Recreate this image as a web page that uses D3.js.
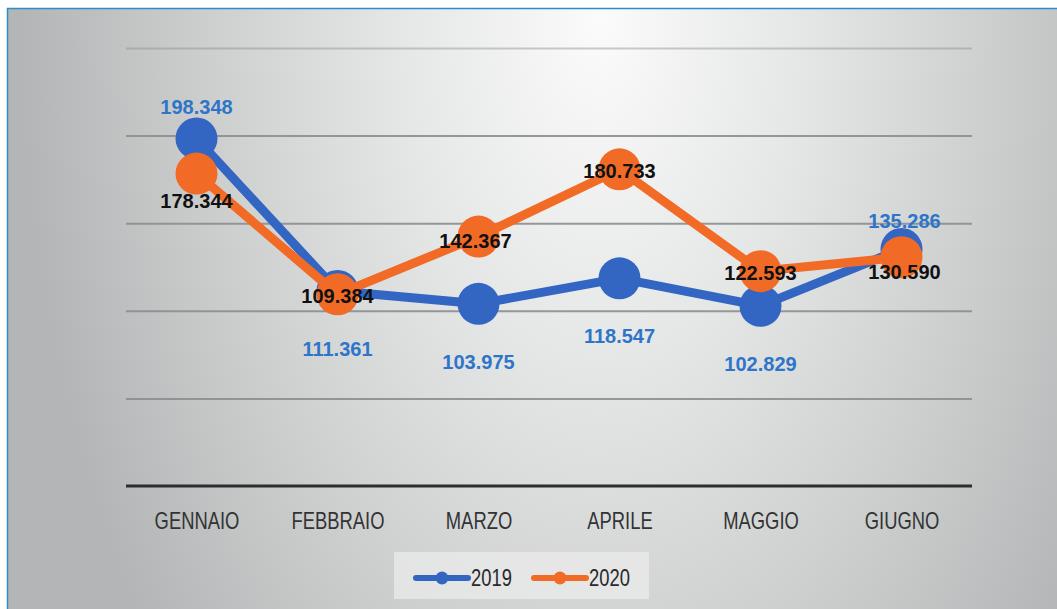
<!DOCTYPE html>
<html>
<head>
<meta charset="utf-8">
<script src="https://cdn.jsdelivr.net/npm/d3@7"></script>
<style>
  html, body { margin: 0; padding: 0; background: #fff; }
  svg { display: block; font-family: "Liberation Sans", Arial, sans-serif; }
</style>
</head>
<body>
<div id="chart"></div>
<script>
// data
const months = ["GENNAIO", "FEBBRAIO", "MARZO", "APRILE", "MAGGIO", "GIUGNO"];
const values2019 = [198.348, 111.361, 103.975, 118.547, 102.829, 135.286];
const values2020 = [178.344, 109.384, 142.367, 180.733, 122.593, 130.590];
const labels2019 = ["198.348", "111.361", "103.975", "118.547", "102.829", "135.286"];
const labels2020 = ["178.344", "109.384", "142.367", "180.733", "122.593", "130.590"];
const gridTicks = [50, 100, 150, 200, 250];

const series = [
  { name: "2019", values: values2019, labels: labels2019, color: "#3366c2", labelColor: "#2e75c9" },
  { name: "2020", values: values2020, labels: labels2020, color: "#f26b26", labelColor: "#111" },
];

// no condensed font installed, so squeeze the text horizontally
const squeeze = "scale(0.8,1)";

//size
const width = 1057, height = 609;
const margin = { top: 48, right: 85, bottom: 123, left: 126 };

const svg = d3.select("#chart").append("svg")
  .attr("width", width)
  .attr("height", height);

//background
const defs = svg.append("defs");
const grad = defs.append("radialGradient")
  .attr("id", "bg")
  .attr("gradientUnits", "userSpaceOnUse")
  .attr("cx", 600).attr("cy", 20).attr("r", 580)
  .attr("gradientTransform", "translate(600 20) scale(1 1.7) translate(-600 -20)");
grad.append("stop").attr("offset", "0%").attr("stop-color", "#fbfbfb");
grad.append("stop").attr("offset", "35%").attr("stop-color", "#e5e6e6");
grad.append("stop").attr("offset", "65%").attr("stop-color", "#cfd1d1");
grad.append("stop").attr("offset", "100%").attr("stop-color", "#b3b5b6");

svg.append("rect")
  .attr("x", 7.5).attr("y", 8.5)
  .attr("width", width).attr("height", height)
  .attr("fill", "url(#bg)")
  .attr("stroke", "#2b8ec4")
  .attr("stroke-width", 1.5);

//scales
const x = d3.scalePoint()
  .domain(months)
  .range([margin.left, width - margin.right])
  .padding(0.5);

const y = d3.scaleLinear()
  .domain([0, 250])
  .range([height - margin.bottom, margin.top]);

//grid
const grid = svg.append("g")
  .attr("transform", `translate(${margin.left},0)`)
  .call(d3.axisLeft(y).tickValues(gridTicks).tickSize(-(width - margin.left - margin.right)).tickFormat(""));
grid.select(".domain").remove();
grid.selectAll(".tick line")
  .attr("stroke", "#8c8d8e")
  .attr("stroke-width", 2)
  .attr("stroke-opacity", (d) => (d === 250 ? 0.45 : 0.9));

//x axis
const xAxis = svg.append("g")
  .attr("transform", `translate(0,${y(0)})`)
  .call(d3.axisBottom(x).tickSize(0).tickPadding(27));
xAxis.select(".domain")
  .attr("stroke", "#2b2d2e")
  .attr("stroke-width", 3)
  .attr("d", `M${margin.left},0H${width - margin.right}`);
xAxis.selectAll(".tick text")
  .attr("font-size", 23)
  .attr("fill", "#333")
  .attr("transform", squeeze);

//lines & markers
const line = d3.line()
  .x((d, i) => x(months[i]))
  .y((d) => y(d));

series.forEach((s) => {
  const g = svg.append("g").attr("class", "series");
  g.append("path")
    .attr("d", line(s.values))
    .attr("fill", "none")
    .attr("stroke", s.color)
    .attr("stroke-width", 9)
    .attr("stroke-linejoin", "round");
  g.selectAll("circle")
    .data(s.values)
    .join("circle")
    .attr("cx", (d, i) => x(months[i]))
    .attr("cy", (d) => y(d))
    .attr("r", 21)
    .attr("fill", s.color);
});

//labels
// 2019: above at the ends, below elsewhere; 2020: centred on the marker
const offsets2019 = (i) => (i === 0 ? [0, -31] : i === 5 ? [3, -28] : [0, 58]);
const offsets2020 = (i) => (i === 0 ? [0, 27] : i === 5 ? [3, 15] : i === 2 ? [-3, 4] : [0, 2]);

[[series[0], offsets2019], [series[1], offsets2020]].forEach(([s, off]) => {
  svg.append("g")
    .selectAll("text")
    .data(s.values)
    .join("text")
    .attr("x", (d, i) => x(months[i]) + off(i)[0])
    .attr("y", (d, i) => y(d) + off(i)[1])
    .attr("dy", "0.35em")
    .attr("text-anchor", "middle")
    .attr("font-size", 20)
    .attr("font-weight", "bold")
    .attr("fill", s.labelColor)
    .text((d, i) => s.labels[i]);
});

//legend
const legend = svg.append("g").attr("transform", "translate(394,552)");
legend.append("rect")
  .attr("width", 255).attr("height", 47)
  .attr("fill", "#ededed")
  .attr("fill-opacity", 0.7);

const item = legend.selectAll("g.item")
  .data(series)
  .join("g")
  .attr("class", "item")
  .attr("transform", (d, i) => `translate(${22 + i * 118},26)`);
item.append("line")
  .attr("x1", 0).attr("x2", 52)
  .attr("stroke", (d) => d.color)
  .attr("stroke-width", 6)
  .attr("stroke-linecap", "round");
item.append("circle")
  .attr("cx", 26).attr("r", 6.5)
  .attr("fill", (d) => d.color);
item.append("text")
  .attr("transform", `translate(55,0) ${squeeze}`)
  .attr("dy", "0.36em")
  .attr("font-size", 23)
  .attr("fill", "#2a2a2a")
  .text((d) => d.name);
</script>
</body>
</html>
